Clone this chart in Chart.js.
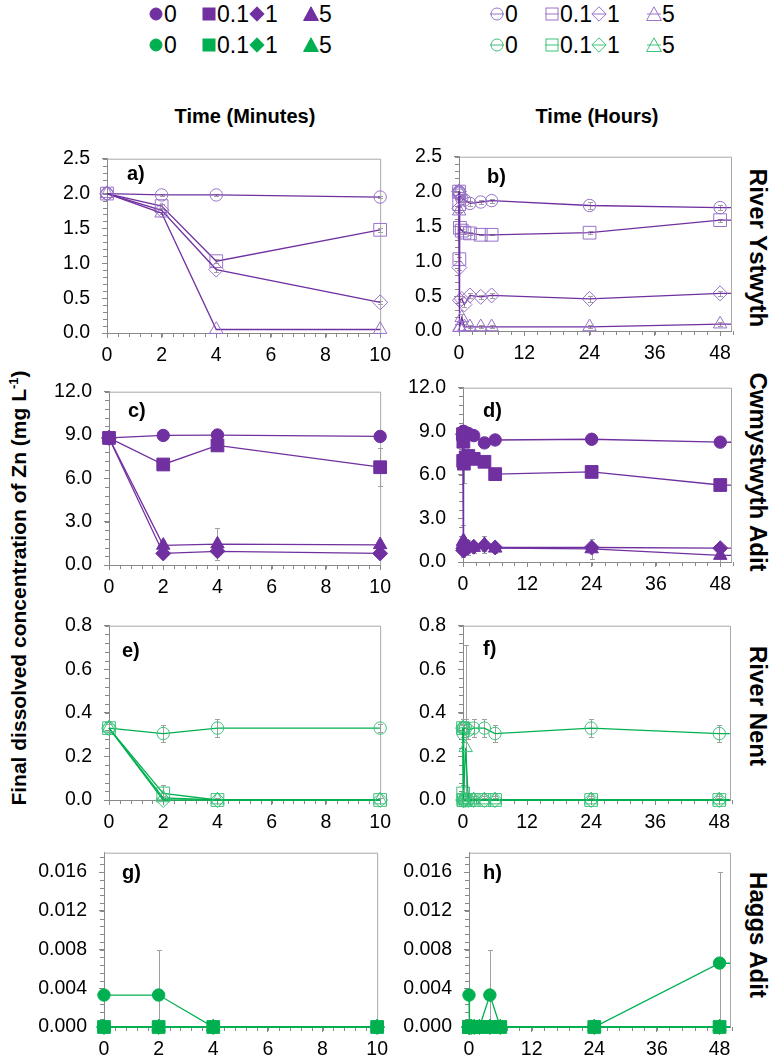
<!DOCTYPE html>
<html>
<head>
<meta charset="utf-8">
<script src="https://cdn.jsdelivr.net/npm/chart.js@4.4.1/dist/chart.umd.min.js"></script>
<style>
  body { margin: 0; background: #fff; width: 776px; height: 1058px; position: relative; overflow: hidden;
         font-family: "Liberation Sans", Arial, sans-serif; }
  .panel { position: absolute; }
  .head { position: absolute; font-weight: bold; font-size: 20px; white-space: nowrap; transform: translateX(-50%); }
  .site { position: absolute; font-weight: bold; font-size: 24px; white-space: nowrap; writing-mode: vertical-rl;
          transform: translateY(-50%); }
  .ytitle { position: absolute; left: 18px; top: 588px; font-weight: bold; font-size: 21px; white-space: nowrap;
            transform: translate(-50%, -50%) rotate(-90deg); transform-origin: center; }
  .ytitle sup { font-size: 13px; }
  .leg { position: absolute; font-size: 23px; line-height: 1; white-space: nowrap;
         font-family: "Liberation Sans Narrow", "Arial Narrow", "Liberation Sans", sans-serif; }
  .legmark { position: absolute; }
</style>
</head>
<body>
<div class="head" style="left:245px; top:105px;">Time (Minutes)</div>
<div class="head" style="left:597px; top:105px;">Time (Hours)</div>
<div class="site" style="left:744px; top:248px;">River Ystwyth</div>
<div class="site" style="left:744px; top:472px;">Cwmystwyth Adit</div>
<div class="site" style="left:744px; top:706px;">River Nent</div>
<div class="site" style="left:744px; top:935px;">Haggs Adit</div>
<div class="ytitle" id="ytitle">Final dissolved concentration of Zn (mg L<sup>-1</sup>)</div>

<script>
// ---- data ----
const MINUTES = [0, 2, 4, 10];
const HOURS = [0, 0.033, 0.067, 0.167, 0.5, 1, 2, 4, 6, 24, 48, 72];
const DOSES = ['0', '0.1', '1', '5'];

const X_TICKS_MIN = [0, 2, 4, 6, 8, 10];
const X_TICKS_HR = [0, 12, 24, 36, 48];
const Y_TICKS_YST = [0, 0.5, 1.0, 1.5, 2.0, 2.5];
const Y_TICKS_CWM = [0, 3, 6, 9, 12];
const Y_TICKS_NENT = [0, 0.2, 0.4, 0.6, 0.8];
const Y_TICKS_HAGGS = [0, 0.004, 0.008, 0.012, 0.016];

// series order follows DOSES
const YST_MIN = [
  [2.00, 1.98, 1.98, 1.95],
  [2.00, 1.82, 1.03, 1.48],
  [2.00, 1.76, 0.91, 0.44],
  [2.00, 1.72, 0.05, 0.05]
];
const YST_MIN_ERR = [
  [0, 0.02, 0.02, 0.02], [0, 0.03, 0.03, 0.03], [0, 0.02, 0.03, 0.02], [0, 0.02, 0, 0]
];
const YST_HR = [
  [2.00, 1.98, 1.98, 1.95, 1.90, 1.88, 1.83, 1.85, 1.87, 1.80, 1.77, 1.76],
  [2.00, 1.82, 1.03, 1.48, 1.44, 1.41, 1.40, 1.38, 1.38, 1.41, 1.59, 1.61],
  [2.00, 1.76, 0.91, 0.44, 0.46, 0.38, 0.51, 0.49, 0.51, 0.46, 0.54, 0.54],
  [2.00, 1.72, 0.05, 0.05, 0.19, 0.06, 0.06, 0.06, 0.06, 0.06, 0.10, 0.10]
];
const YST_HR_ERR = [
  [0, 0.02, 0.02, 0.02, 0.03, 0.03, 0.03, 0.03, 0.03, 0.05, 0.04, 0],
  [0, 0.03, 0.03, 0.03, 0.02, 0.02, 0.02, 0.01, 0.01, 0.02, 0.02, 0],
  [0, 0.02, 0.03, 0.02, 0.04, 0.04, 0.03, 0.03, 0.03, 0.04, 0.04, 0],
  [0, 0.02, 0, 0, 0.06, 0.04, 0.02, 0.02, 0.02, 0.02, 0.03, 0]
];

const CWM_MIN = [
  [8.80, 8.97, 9.00, 8.90],
  [8.80, 6.96, 8.28, 6.77],
  [8.80, 0.80, 0.95, 0.80],
  [8.80, 1.36, 1.45, 1.40]
];
const CWM_MIN_ERR = [
  [0, 0.1, 0.1, 0.1], [0, 0.2, 0.3, 1.3], [0, 0.3, 0.3, 0.2], [0, 0.4, 1.1, 0.3]
];
const CWM_HR = [
  [8.80, 8.97, 9.00, 8.90, 8.90, 8.85, 8.70, 8.20, 8.40, 8.45, 8.25, 8.20],
  [8.80, 6.96, 8.28, 6.77, 7.20, 7.30, 7.10, 6.90, 6.05, 6.20, 5.30, 5.25],
  [8.80, 0.80, 0.95, 0.80, 0.90, 1.00, 1.05, 1.15, 1.00, 1.00, 0.95, 0.95],
  [8.80, 1.36, 1.45, 1.40, 1.10, 1.00, 1.00, 1.20, 0.95, 0.90, 0.45, 0.60]
];
const CWM_HR_ERR = [
  [0, 0.1, 0.1, 0.1, 0.1, 0.1, 0.1, 0.1, 0.1, 0.1, 0.1, 0],
  [0, 0.2, 0.3, 1.3, 0.2, 0.2, 0.2, 0.2, 0.2, 0.2, 0.2, 0],
  [0, 0.3, 0.3, 0.2, 0.3, 0.3, 0.3, 0.4, 0.3, 0.3, 0.3, 0],
  [0, 0.4, 1.1, 0.3, 0.5, 0.5, 0.4, 0.6, 0.3, 0.7, 0.7, 0]
];

const NENT_MIN = [
  [0.33, 0.305, 0.33, 0.33],
  [0.33, 0.03, 0, 0],
  [0.33, 0, 0, 0],
  [0.33, 0.01, 0, 0]
];
const NENT_MIN_ERR = [
  [0.02, 0.04, 0.04, 0.02], [0, 0.04, 0.01, 0.01], [0, 0.01, 0.01, 0.01], [0, 0.01, 0, 0]
];
const NENT_HR = [
  [0.33, 0.305, 0.33, 0.33, 0.33, 0.32, 0.33, 0.33, 0.305, 0.33, 0.305, 0.30],
  [0.33, 0.03, 0, 0, 0, 0, 0, 0, 0, 0, 0, 0],
  [0.33, 0, 0, 0, 0, 0, 0, 0, 0, 0, 0, 0],
  [0.33, 0.01, 0, 0, 0.24, 0, 0, 0, 0, 0, 0, 0]
];
const NENT_HR_ERR = [
  [0.02, 0.04, 0.04, 0.02, 0.04, 0.04, 0.04, 0.04, 0.04, 0.04, 0.04, 0],
  [0, 0.04, 0.01, 0.01, 0.03, 0.03, 0.03, 0.03, 0.03, 0.03, 0.03, 0],
  [0, 0.01, 0.01, 0.01, 0.01, 0.01, 0.01, 0.01, 0.01, 0.01, 0.01, 0],
  [0, 0.01, 0, 0, 0.47, 0.02, 0.02, 0.02, 0.02, 0.02, 0.02, 0]
];

const HAGGS_MIN = [
  [0.0033, 0.0033, 0, 0],
  [0, 0, 0, 0],
  [0, 0, 0, 0],
  [0, 0, 0, 0]
];
const HAGGS_MIN_ERR = [
  [0, 0.0047, 0, 0], [0, 0, 0, 0], [0, 0, 0, 0], [0, 0, 0, 0]
];
const HAGGS_HR = [
  [0.0033, 0, 0, 0, 0, 0, 0, 0.0033, 0, 0, 0.0066, 0.0064],
  [0, 0, 0, 0, 0, 0, 0, 0, 0, 0, 0, 0],
  [0, 0, 0, 0, 0, 0, 0, 0, 0, 0, 0, 0],
  [0, 0, 0, 0, 0, 0, 0, 0, 0, 0, 0, 0]
];
const HAGGS_HR_ERR = [
  [0, 0, 0, 0, 0, 0, 0, 0.0047, 0, 0, 0.0094, 0],
  [0, 0, 0, 0, 0, 0, 0, 0, 0, 0, 0, 0],
  [0, 0, 0, 0, 0, 0, 0, 0, 0, 0, 0, 0],
  [0, 0, 0, 0, 0, 0, 0, 0, 0, 0, 0, 0]
];

// ---- styling ----
const PURPLE = '#7030A0';
const PURPLE_OPEN = '#9873C8';
const GREEN = '#00B050';
const GREEN_OPEN = '#3DC27B';
const AXIS_GREY = '#898989';
const FRAME_GREY = '#A8A8A8';
const ERR_GREY = '#A0A0A0';
const MARKERS = ['circle', 'rect', 'rectRot', 'triangle'];
const MARKER_R = { circle: 6.2, rect: 9, rectRot: 7.5, triangle: 7.8 };
const TICK_FONT = { family: '"Liberation Sans", Arial, sans-serif', size: 19.5 };

// plot frame, minor ticks, error bars and the panel letter
const panelFrame = {
  id: 'panelFrame',
  beforeDatasetsDraw(chart, args, opts) {
    const { ctx, chartArea: a, scales: { x, y } } = chart;
    ctx.save();
    ctx.lineWidth = 1;
    ctx.strokeStyle = FRAME_GREY;
    ctx.beginPath();
    ctx.moveTo(a.left, a.top + 0.5);
    ctx.lineTo(a.right + 0.5, a.top + 0.5);
    ctx.lineTo(a.right + 0.5, a.bottom);
    ctx.stroke();

    ctx.strokeStyle = AXIS_GREY;
    ctx.beginPath();
    const nx = Math.round((x.max - x.min) / opts.minorX);
    for (let k = 0; k <= nx; k++) {
      const px = Math.round(x.getPixelForValue(x.min + k * opts.minorX)) + 0.5;
      ctx.moveTo(px, a.bottom);
      ctx.lineTo(px, a.bottom + 4);
    }
    const ny = Math.round((y.max - y.min) / opts.minorY);
    for (let k = 0; k <= ny; k++) {
      const py = Math.round(y.getPixelForValue(y.min + k * opts.minorY)) + 0.5;
      ctx.moveTo(a.left - 4, py);
      ctx.lineTo(a.left, py);
    }
    ctx.stroke();

    // error bars
    ctx.strokeStyle = ERR_GREY;
    ctx.beginPath();
    chart.data.datasets.forEach(ds => {
      if (!ds.errors) return;
      ds.errors.forEach((e, j) => {
        const pt = ds.data[j];
        if (!e || pt.x > x.max) return;
        const px = Math.round(x.getPixelForValue(pt.x)) + 0.5;
        const top = Math.round(y.getPixelForValue(pt.y + e)) + 0.5;
        const bot = Math.round(y.getPixelForValue(Math.max(y.min, pt.y - e))) + 0.5;
        ctx.moveTo(px, top); ctx.lineTo(px, bot);
        ctx.moveTo(px - 2.5, top); ctx.lineTo(px + 2.5, top);
        if (pt.y - e > y.min) { ctx.moveTo(px - 2.5, bot); ctx.lineTo(px + 2.5, bot); }
      });
    });
    ctx.stroke();
    ctx.restore();
  },
  afterDatasetsDraw(chart, args, opts) {
    const { ctx, chartArea: a } = chart;
    ctx.save();
    ctx.fillStyle = '#000';
    ctx.font = 'bold 20px "Liberation Sans", Arial, sans-serif';
    ctx.textBaseline = 'alphabetic';
    ctx.fillText(opts.label, a.left + opts.dx, a.top + opts.dy);
    ctx.restore();
  }
};

const PAD_L = 72, PAD_T = 12, PAD_R = 14, PAD_B = 36;

function makePanel(p) {
  const w = p.box[2] - p.box[0] + PAD_L + PAD_R;
  const h = p.box[3] - p.box[1] + PAD_T + PAD_B;
  const canvas = document.createElement('canvas');
  canvas.className = 'panel';
  canvas.width = w;
  canvas.height = h;
  canvas.style.left = (p.box[0] - PAD_L) + 'px';
  canvas.style.top = (p.box[1] - PAD_T) + 'px';
  canvas.style.width = w + 'px';
  canvas.style.height = h + 'px';
  document.body.appendChild(canvas);

  const datasets = p.series.map((vals, i) => {
    const style = MARKERS[i];
    return {
      label: DOSES[i],
      data: vals.map((v, j) => ({ x: p.times[j], y: v })),
      errors: p.errors[i],
      borderColor: p.lineColor,
      borderWidth: 1.3,
      pointStyle: style,
      pointRadius: MARKER_R[style],
      pointBorderWidth: 1,
      pointBorderColor: p.open ? p.markColor : p.lineColor,
      pointBackgroundColor: p.open ? 'rgba(255,255,255,0)' : p.lineColor,
      fill: false,
      tension: 0,
      clip: { left: false, top: false, right: p.clipRight ? 0 : false, bottom: false }
    };
  }).reverse();

  new Chart(canvas, {
    type: 'line',
    data: { datasets },
    options: {
      responsive: false,
      animation: false,
      devicePixelRatio: 1,
      layout: { padding: { left: 0, top: PAD_T, right: PAD_R, bottom: 0 } },
      plugins: {
        legend: { display: false },
        tooltip: { enabled: false },
        panelFrame: { minorX: p.minorX, minorY: p.minorY, label: p.label, dx: p.labelPos[0], dy: p.labelPos[1] }
      },
      scales: {
        x: {
          type: 'linear', min: p.xTicks[0], max: p.xMax,
          afterBuildTicks: s => { s.ticks = p.xTicks.map(v => ({ value: v })); },
          afterFit: s => { s.height = PAD_B; },
          grid: { drawOnChartArea: false, drawTicks: true, tickLength: 5, color: AXIS_GREY },
          border: { display: true, color: AXIS_GREY, width: 1 },
          ticks: { font: TICK_FONT, color: '#000', padding: 6, maxRotation: 0, autoSkip: false,
                   callback: v => String(v) }
        },
        y: {
          type: 'linear', min: 0, max: p.yMax,
          afterBuildTicks: s => { s.ticks = p.yTicks.map(v => ({ value: v })); },
          afterFit: s => { s.width = PAD_L; },
          grid: { drawOnChartArea: false, drawTicks: true, tickLength: 5, color: AXIS_GREY },
          border: { display: true, color: AXIS_GREY, width: 1 },
          ticks: { font: TICK_FONT, color: '#000', padding: 12, autoSkip: false,
                   callback: v => v.toFixed(p.yDec) }
        }
      }
    },
    plugins: [panelFrame]
  });
}

const common = {
  min: { times: MINUTES, xTicks: X_TICKS_MIN, xMax: 10, minorX: 0.4, clipRight: false },
  hr: { times: HOURS, xTicks: X_TICKS_HR, xMax: 50, minorX: 2.4, clipRight: true }
};
const purpleOpen = { lineColor: PURPLE, markColor: PURPLE_OPEN, open: true };
const purpleFull = { lineColor: PURPLE, markColor: PURPLE, open: false };
const greenOpen = { lineColor: GREEN, markColor: GREEN_OPEN, open: true };
const greenFull = { lineColor: GREEN, markColor: GREEN, open: false };

makePanel({ ...common.min, ...purpleOpen, box: [107, 147, 383, 333], series: YST_MIN, errors: YST_MIN_ERR,
  yTicks: Y_TICKS_YST, yMax: 2.5, minorY: 0.1, yDec: 1, label: 'a)', labelPos: [20, 21] });
makePanel({ ...common.hr, ...purpleOpen, box: [459, 145, 731, 331], series: YST_HR, errors: YST_HR_ERR,
  yTicks: Y_TICKS_YST, yMax: 2.5, minorY: 0.1, yDec: 1, label: 'b)', labelPos: [28, 26] });
makePanel({ ...common.min, ...purpleFull, box: [109, 380, 383, 565], series: CWM_MIN, errors: CWM_MIN_ERR,
  yTicks: Y_TICKS_CWM, yMax: 12, minorY: 0.6, yDec: 1, label: 'c)', labelPos: [19, 25] });
makePanel({ ...common.hr, ...purpleFull, box: [463, 376, 731, 562], series: CWM_HR, errors: CWM_HR_ERR,
  yTicks: Y_TICKS_CWM, yMax: 12, minorY: 0.6, yDec: 1, label: 'd)', labelPos: [20, 29] });
makePanel({ ...common.min, ...greenOpen, box: [109, 614, 383, 800], series: NENT_MIN, errors: NENT_MIN_ERR,
  yTicks: Y_TICKS_NENT, yMax: 0.8, minorY: 0.04, yDec: 1, label: 'e)', labelPos: [13, 31] });
makePanel({ ...common.hr, ...greenOpen, box: [463, 614, 730, 800], series: NENT_HR, errors: NENT_HR_ERR,
  yTicks: Y_TICKS_NENT, yMax: 0.8, minorY: 0.04, yDec: 1, label: 'f)', labelPos: [20, 29] });
makePanel({ ...common.min, ...greenFull, box: [104, 841, 380, 1027], series: HAGGS_MIN, errors: HAGGS_MIN_ERR,
  yTicks: Y_TICKS_HAGGS, yMax: 0.018, minorY: 0.0008, yDec: 3, label: 'g)', labelPos: [18, 26] });
makePanel({ ...common.hr, ...greenFull, box: [469, 841, 730, 1027], series: HAGGS_HR, errors: HAGGS_HR_ERR,
  yTicks: Y_TICKS_HAGGS, yMax: 0.018, minorY: 0.0008, yDec: 3, label: 'h)', labelPos: [14, 26] });

// ---- legend (top) ----
const LEG_ROWS = [14, 45];
const LEG_FILLED_X = [156, 209, 257, 311];
const LEG_OPEN_X = [497, 552, 599, 654];

function markerSvg(style, color, open) {
  const fill = open ? 'none' : color;
  let shape;
  if (style === 'circle') shape = `<circle cx="8" cy="8" r="6"/>`;
  else if (style === 'rect') shape = `<rect x="2" y="2" width="12" height="12"/>`;
  else if (style === 'rectRot') shape = `<polygon points="8,0.8 15.2,8 8,15.2 0.8,8"/>`;
  else shape = `<polygon points="8,0.8 15.4,14.5 0.6,14.5"/>`;
  const bar = open ? `<line x1="1" y1="8" x2="15" y2="8" stroke="${color}" stroke-width="1"/>` : '';
  return `<svg width="16" height="16" viewBox="0 0 16 16"><g fill="${fill}" stroke="${color}" stroke-width="1">${shape}</g>${bar}</svg>`;
}

function legendRow(y, xs, color, open) {
  DOSES.forEach((d, i) => {
    const m = document.createElement('div');
    m.className = 'legmark';
    m.style.left = (xs[i] - 8) + 'px';
    m.style.top = (y - 8) + 'px';
    m.innerHTML = markerSvg(MARKERS[i], color, open);
    document.body.appendChild(m);
    const t = document.createElement('div');
    t.className = 'leg';
    t.style.left = (xs[i] + 8) + 'px';
    t.style.top = (y - 11) + 'px';
    t.textContent = d;
    document.body.appendChild(t);
  });
}
legendRow(LEG_ROWS[0], LEG_FILLED_X, PURPLE, false);
legendRow(LEG_ROWS[1], LEG_FILLED_X, GREEN, false);
legendRow(LEG_ROWS[0], LEG_OPEN_X, PURPLE_OPEN, true);
legendRow(LEG_ROWS[1], LEG_OPEN_X, GREEN_OPEN, true);
</script>
</body>
</html>
